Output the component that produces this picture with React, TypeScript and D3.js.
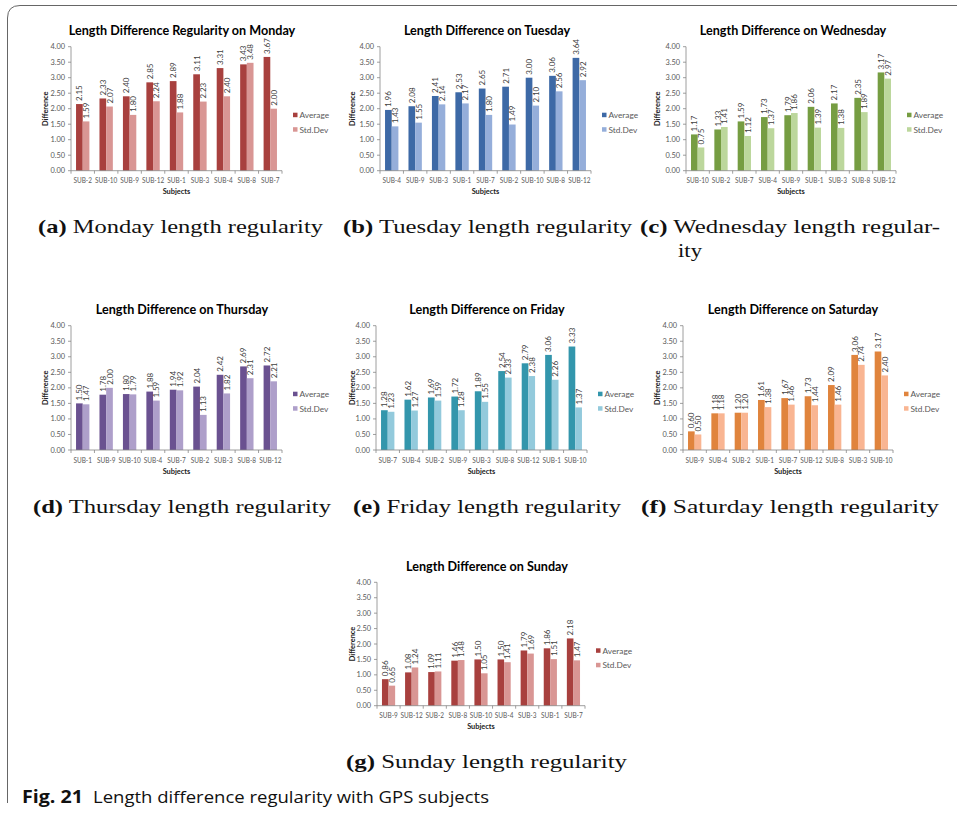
import React from "react";
import * as d3 from "d3";

const monCats = ["SUB-2", "SUB-10", "SUB-9", "SUB-12", "SUB-1", "SUB-3", "SUB-4", "SUB-8", "SUB-7"];
const monAvg = [2.15, 2.33, 2.4, 2.85, 2.89, 3.11, 3.31, 3.43, 3.67];
const monStd = [1.59, 2.07, 1.8, 2.24, 1.88, 2.23, 2.4, 3.48, 2.0];

const tueCats = ["SUB-4", "SUB-9", "SUB-3", "SUB-1", "SUB-7", "SUB-2", "SUB-10", "SUB-8", "SUB-12"];
const tueAvg = [1.96, 2.08, 2.41, 2.53, 2.65, 2.71, 3.0, 3.06, 3.64];
const tueStd = [1.43, 1.55, 2.14, 2.17, 1.8, 1.49, 2.1, 2.56, 2.92];

const wedCats = ["SUB-10", "SUB-2", "SUB-7", "SUB-4", "SUB-9", "SUB-1", "SUB-3", "SUB-8", "SUB-12"];
const wedAvg = [1.17, 1.33, 1.59, 1.73, 1.79, 2.06, 2.17, 2.35, 3.17];
const wedStd = [0.75, 1.41, 1.12, 1.37, 1.86, 1.39, 1.38, 1.89, 2.97];

const thuCats = ["SUB-1", "SUB-9", "SUB-10", "SUB-4", "SUB-7", "SUB-2", "SUB-3", "SUB-8", "SUB-12"];
const thuAvg = [1.5, 1.78, 1.8, 1.88, 1.94, 2.04, 2.42, 2.69, 2.72];
const thuStd = [1.47, 2.0, 1.79, 1.59, 1.92, 1.13, 1.82, 2.31, 2.21];

const friCats = ["SUB-7", "SUB-4", "SUB-2", "SUB-9", "SUB-3", "SUB-8", "SUB-12", "SUB-1", "SUB-10"];
const friAvg = [1.28, 1.62, 1.69, 1.72, 1.89, 2.54, 2.79, 3.06, 3.33];
const friStd = [1.23, 1.27, 1.59, 1.28, 1.55, 2.33, 2.38, 2.26, 1.37];

const satCats = ["SUB-9", "SUB-4", "SUB-2", "SUB-1", "SUB-7", "SUB-12", "SUB-8", "SUB-3", "SUB-10"];
const satAvg = [0.6, 1.18, 1.2, 1.61, 1.67, 1.73, 2.09, 3.06, 3.17];
const satStd = [0.5, 1.18, 1.2, 1.38, 1.46, 1.44, 1.46, 2.74, 2.4];

const sunCats = ["SUB-9", "SUB-12", "SUB-2", "SUB-8", "SUB-10", "SUB-4", "SUB-3", "SUB-1", "SUB-7"];
const sunAvg = [0.86, 1.08, 1.09, 1.46, 1.5, 1.5, 1.79, 1.86, 2.18];
const sunStd = [0.65, 1.24, 1.11, 1.48, 1.05, 1.41, 1.69, 1.51, 1.47];

const seriesNames = ["Average", "Std.Dev"];
const yTicks = [0, 0.5, 1, 1.5, 2, 2.5, 3, 3.5, 4];

const panels = [
  { title: "Length Difference Regularity on Monday", cats: monCats, avg: monAvg, std: monStd, cols: ["#A8403E", "#D99694"], cap: "(a)", capText: "Monday length regularity" },
  { title: "Length Difference on Tuesday", cats: tueCats, avg: tueAvg, std: tueStd, cols: ["#3D69A6", "#95AEDA"], cap: "(b)", capText: "Tuesday length regularity" },
  { title: "Length Difference on Wednesday", cats: wedCats, avg: wedAvg, std: wedStd, cols: ["#769D42", "#BCD79C"], cap: "(c)", capText: "Wednesday length regular-" },
  { title: "Length Difference on Thursday", cats: thuCats, avg: thuAvg, std: thuStd, cols: ["#6A5190", "#AE9FCA"], cap: "(d)", capText: "Thursday length regularity" },
  { title: "Length Difference on Friday", cats: friCats, avg: friAvg, std: friStd, cols: ["#3396AC", "#93CADC"], cap: "(e)", capText: "Friday length regularity" },
  { title: "Length Difference on Saturday", cats: satCats, avg: satAvg, std: satStd, cols: ["#E0843D", "#F9B592"], cap: "(f)", capText: "Saturday length regularity" },
  { title: "Length Difference on Sunday", cats: sunCats, avg: sunAvg, std: sunStd, cols: ["#A8403E", "#D99694"], cap: "(g)", capText: "Sunday length regularity" },
];

// layout (positions only)
const layout = [
  { x0: 71, x1: 282, yTop: 46.7, yBot: 170.7, tcx: 182, ylx: 45, capX0: 38, capX1: 323, capY: 233 },
  { x0: 380, x1: 591, yTop: 46.7, yBot: 170.7, tcx: 487, ylx: 352, capX0: 343, capX1: 632, capY: 233 },
  { x0: 686, x1: 896, yTop: 46.7, yBot: 170.7, tcx: 793, ylx: 657, capX0: 640, capX1: 940, capY: 233 },
  { x0: 71, x1: 282, yTop: 325.7, yBot: 450, tcx: 182, ylx: 45, capX0: 33, capX1: 331, capY: 513 },
  { x0: 376, x1: 587, yTop: 325.7, yBot: 450, tcx: 487, ylx: 352, capX0: 353, capX1: 621, capY: 513 },
  { x0: 683, x1: 893, yTop: 325.7, yBot: 450, tcx: 793, ylx: 657, capX0: 641, capX1: 939, capY: 513 },
  { x0: 377, x1: 585, yTop: 582.3, yBot: 705.7, tcx: 487, ylx: 352, capX0: 346, capX1: 627, capY: 768 },
];

const FONT = "Lato, 'Open Sans', sans-serif";
const AXIS = "#868686";
const TXT = "#595959";

function Panel({ p, l }: { p: any; l: any }) {
  const x = d3.scaleBand<string>().domain(p.cats).range([l.x0, l.x1]).paddingInner(0.43).paddingOuter(0.215);
  const xs = d3.scaleBand<string>().domain(seriesNames).range([0, x.bandwidth()]).padding(0);
  const y = d3.scaleLinear().domain([0, 4]).range([l.yBot, l.yTop]);
  const n = p.cats.length;
  const bounds = d3.range(n + 1).map((i) => l.x0 + (i * (l.x1 - l.x0)) / n);
  const vals = [p.avg, p.std];
  return (
    <g>
      <text x={l.tcx} y={l.yTop - 16} textAnchor="middle" dominantBaseline="central" fontFamily={FONT} fontWeight="bold" fontSize={12.6} fill="#000">
        {p.title}
      </text>
      {/* y axis */}
      <line x1={l.x0} x2={l.x0} y1={l.yTop} y2={l.yBot} stroke={AXIS} strokeWidth={0.8} />
      {yTicks.map((t) => (
        <g key={t}>
          <line x1={l.x0 - 3} x2={l.x0} y1={y(t)} y2={y(t)} stroke={AXIS} strokeWidth={0.8} />
          <text x={l.x0 - 6} y={y(t)} textAnchor="end" dominantBaseline="central" fontFamily={FONT} fontSize={7.4} fill={TXT}>
            {d3.format(".2f")(t)}
          </text>
        </g>
      ))}
      <text transform={`translate(${l.ylx},${(l.yTop + l.yBot) / 2}) rotate(-90)`} textAnchor="middle" dominantBaseline="central" fontFamily={FONT} fontWeight="bold" fontSize={7.4} fill="#222">
        Difference
      </text>
      {/* bars */}
      {p.cats.map((c: string, i: number) =>
        seriesNames.map((s, k) => {
          const v = vals[k][i];
          const bx = (x(c) as number) + (xs(s) as number);
          return (
            <g key={c + s}>
              <rect x={bx} y={y(v)} width={xs.bandwidth()} height={l.yBot - y(v)} fill={p.cols[k]} />
              <text transform={`translate(${bx + xs.bandwidth() / 2},${y(v) - 3}) rotate(-90)`} textAnchor="start" dominantBaseline="central" fontFamily={FONT} fontSize={8} fill="#404040">
                {d3.format(".2f")(v)}
              </text>
            </g>
          );
        })
      )}
      {/* x axis */}
      <line x1={l.x0} x2={l.x1} y1={l.yBot} y2={l.yBot} stroke={AXIS} strokeWidth={0.8} />
      {bounds.map((bx, i) => (
        <line key={i} x1={bx} x2={bx} y1={l.yBot} y2={l.yBot + 3} stroke={AXIS} strokeWidth={0.8} />
      ))}
      {p.cats.map((c: string) => (
        <text key={c} transform={`translate(${(x(c) as number) + x.bandwidth() / 2},${l.yBot + 10}) scale(0.85,1)`} textAnchor="middle" dominantBaseline="central" fontFamily={FONT} fontSize={7.6} fill={TXT}>
          {c}
        </text>
      ))}
      <text x={(l.x0 + l.x1) / 2} y={l.yBot + 21} textAnchor="middle" dominantBaseline="central" fontFamily={FONT} fontWeight="bold" fontSize={7.4} fill="#222">
        Subjects
      </text>
      {/* legend */}
      {seriesNames.map((s, k) => (
        <g key={s}>
          <rect x={l.x1 + 11} y={l.yTop + 66 + k * 14.5} width={4.5} height={4.5} fill={p.cols[k]} />
          <text x={l.x1 + 17.5} y={l.yTop + 68.3 + k * 14.5} dominantBaseline="central" fontFamily={FONT} fontSize={8.3} fill={TXT}>
            {s}
          </text>
        </g>
      ))}
      {/* caption */}
      <text x={l.capX0} y={l.capY} fontFamily="'Liberation Serif', serif" fontSize={19} fill="#111" textLength={l.capX1 - l.capX0} lengthAdjust="spacingAndGlyphs">
        <tspan fontWeight="bold">{p.cap}</tspan>
        <tspan> {p.capText}</tspan>
      </text>
    </g>
  );
}

export default function App() {
  return (
    <svg width={957} height={814} style={{ position: "absolute", left: 0, top: 0, background: "#fff" }}>
      <rect x={0} y={0} width={957} height={814} fill="#fff" />
      <path d="M7.5,803 L7.5,18 Q7.5,5.5 20,5.5 L957,5.5" fill="none" stroke="#666" strokeWidth={1} />
      {panels.map((p, i) => (
        <Panel key={i} p={p} l={layout[i]} />
      ))}
      <text x={678} y={257} fontFamily="'Liberation Serif', serif" fontSize={19} fill="#111" textLength={24} lengthAdjust="spacingAndGlyphs">
        ity
      </text>
      <text x={22} y={803} fontFamily="'Open Sans', sans-serif" fontSize={17} fontWeight="bold" fill="#111" textLength={61} lengthAdjust="spacingAndGlyphs">
        Fig. 21
      </text>
      <text x={93} y={803} fontFamily="'Open Sans', sans-serif" fontSize={17} fill="#111" textLength={396} lengthAdjust="spacingAndGlyphs">
        Length difference regularity with GPS subjects
      </text>
    </svg>
  );
}
